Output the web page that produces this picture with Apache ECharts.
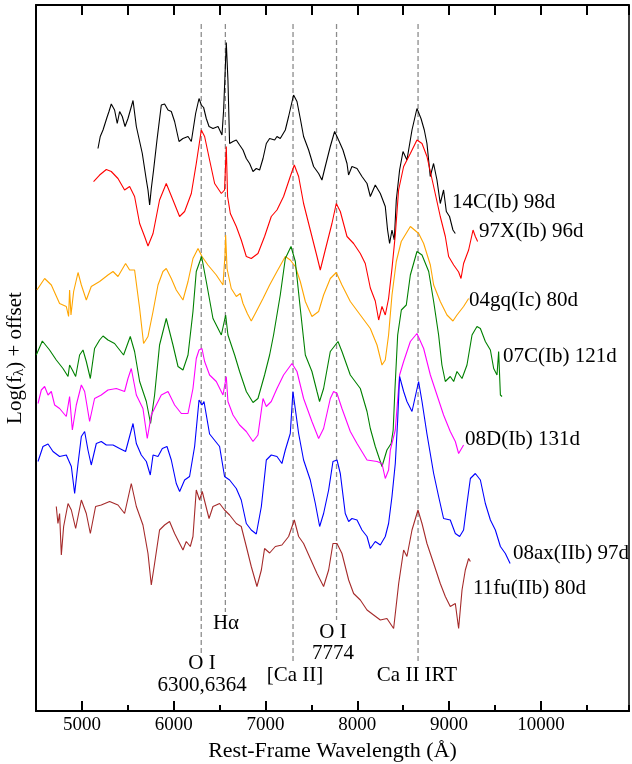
<!DOCTYPE html>
<html>
<head>
<meta charset="utf-8">
<script src="https://cdn.jsdelivr.net/npm/echarts@6/dist/echarts.min.js"></script>
<style>
html,body{margin:0;padding:0;background:#fff;}
#chart{width:632px;height:764px;}
</style>
</head>
<body>
<div id="chart"></div>
<script>
// ---------------- DATA (wavelength in Å, log flux + offset) ----------------
const sn14C = [[5175,11.25],[5200,11.49],[5230,11.62],[5273,11.87],[5295,11.99],[5320,12.14],[5356,12.02],[5385,11.75],[5411,11.99],[5440,11.89],[5470,11.69],[5502,11.85],[5557,12.21],[5593,11.69],[5658,11.15],[5702,10.62],[5720,10.42],[5738,10.12],[5756,10.45],[5781,10.82],[5818,11.42],[5865,12.12],[5901,12.14],[5938,12.02],[5974,11.99],[6010,11.79],[6058,11.39],[6101,11.45],[6156,11.49],[6192,11.39],[6239,11.95],[6276,12.25],[6301,12.12],[6326,12.07],[6355,11.85],[6385,11.69],[6428,11.65],[6483,11.69],[6526,11.52],[6544,12.02],[6573,13.37],[6591,12.62],[6609,11.35],[6646,11.39],[6682,11.42],[6718,11.32],[6755,11.22],[6791,11.05],[6827,10.95],[6864,10.79],[6900,10.85],[6936,10.82],[6973,11.05],[7009,11.35],[7045,11.45],[7100,11.42],[7125,11.49],[7161,11.45],[7216,11.62],[7252,11.89],[7306,12.32],[7343,12.19],[7379,11.85],[7415,11.49],[7470,11.22],[7524,10.89],[7579,10.75],[7615,10.62],[7651,10.89],[7706,11.29],[7753,11.59],[7796,11.42],[7844,11.22],[7888,10.95],[7905,10.72],[7942,10.89],[7997,10.85],[8051,10.69],[8106,10.55],[8142,10.29],[8196,10.52],[8251,10.35],[8305,10.09],[8330,9.62],[8352,9.35],[8378,9.62],[8403,9.42],[8425,10.22],[8461,10.82],[8498,11.19],[8541,11.02],[8596,11.62],[8650,12.05],[8694,11.85],[8730,11.62],[8759,11.35],[8795,10.69],[8831,10.95],[8868,10.62],[8904,10.15],[8940,10.42],[8970,9.99],[9005,9.89],[9042,9.62],[9068,9.55]];

const sn97X = [[5127,10.59],[5193,10.72],[5266,10.83],[5320,10.79],[5393,10.65],[5465,10.42],[5520,10.49],[5574,10.29],[5629,9.75],[5683,9.49],[5720,9.30],[5775,9.55],[5846,10.22],[5919,10.55],[5992,10.22],[6064,9.89],[6119,9.99],[6192,10.35],[6246,10.95],[6301,11.62],[6337,11.49],[6391,11.02],[6446,10.55],[6519,10.35],[6554,10.42],[6573,11.29],[6587,10.29],[6617,9.95],[6682,9.69],[6736,9.42],[6791,9.09],[6845,9.05],[6918,9.15],[6990,9.49],[7063,9.89],[7125,10.02],[7197,10.29],[7270,10.69],[7314,10.92],[7361,10.69],[7415,10.15],[7488,9.62],[7561,9.09],[7597,8.82],[7651,9.22],[7724,9.75],[7771,10.15],[7815,9.99],[7888,9.49],[7960,9.35],[8033,9.15],[8087,8.95],[8142,8.46],[8196,8.20],[8233,7.82],[8269,8.09],[8305,7.92],[8341,8.25],[8378,8.85],[8414,9.52],[8450,10.42],[8505,10.89],[8578,11.15],[8650,11.42],[8705,11.35],[8759,11.09],[8832,10.49],[8904,9.89],[8959,9.49],[8995,9.09],[9050,8.92],[9104,8.78],[9130,8.65],[9158,8.95],[9213,9.22],[9261,9.62],[9286,9.49],[9311,9.39]];

const sn04gq = [[4510,8.42],[4522,8.45],[4594,8.65],[4667,8.52],[4757,8.15],[4830,8.09],[4855,7.89],[4866,8.42],[4881,7.92],[4910,8.39],[4958,8.77],[4994,8.52],[5012,8.55],[5048,8.22],[5102,8.49],[5193,8.59],[5284,8.72],[5339,8.79],[5393,8.69],[5476,8.95],[5520,8.82],[5574,8.82],[5629,8.05],[5672,7.35],[5720,7.49],[5775,7.99],[5829,8.52],[5883,8.79],[5919,8.85],[5974,8.65],[6028,8.42],[6101,8.22],[6156,8.59],[6210,9.05],[6265,9.25],[6308,9.09],[6373,8.92],[6464,8.72],[6537,8.52],[6559,9.12],[6566,9.52],[6581,8.85],[6627,8.45],[6682,8.29],[6725,8.35],[6755,8.15],[6802,7.95],[6845,7.80],[6900,7.99],[6973,8.25],[7045,8.52],[7125,8.79],[7216,9.09],[7270,9.02],[7325,8.89],[7379,8.59],[7434,8.19],[7506,7.89],[7579,7.99],[7633,8.32],[7706,8.65],[7771,8.77],[7833,8.52],[7924,8.19],[8033,7.92],[8142,7.65],[8215,7.32],[8269,6.92],[8305,7.02],[8341,7.52],[8378,8.32],[8425,8.99],[8479,9.39],[8578,9.69],[8669,9.55],[8723,9.35],[8796,8.92],[8832,8.52],[8904,8.19],[8977,7.92],[9042,7.80],[9086,7.92],[9158,8.09],[9213,8.25]];

const sn07C = [[4503,7.12],[4569,7.40],[4648,7.22],[4721,7.02],[4794,6.85],[4849,6.69],[4866,6.92],[4896,6.82],[4932,6.69],[4975,7.12],[5012,7.22],[5048,6.99],[5092,6.65],[5138,7.25],[5193,7.42],[5230,7.50],[5284,7.42],[5356,7.35],[5454,7.12],[5527,7.49],[5574,7.19],[5629,6.59],[5702,6.19],[5748,5.75],[5792,6.32],[5846,7.32],[5919,7.85],[5992,7.32],[6047,6.89],[6101,6.82],[6156,7.12],[6210,7.99],[6246,8.79],[6304,9.09],[6355,8.59],[6428,7.85],[6519,7.52],[6566,7.92],[6591,7.52],[6664,7.12],[6718,6.79],[6791,6.39],[6864,6.17],[6918,6.25],[6990,6.72],[7045,7.12],[7088,7.52],[7161,8.32],[7216,9.05],[7278,9.29],[7325,8.99],[7379,8.05],[7434,7.12],[7506,6.79],[7561,6.39],[7589,6.19],[7633,6.45],[7706,7.19],[7790,7.39],[7833,7.19],[7924,6.72],[8033,6.45],[8106,5.99],[8142,5.65],[8196,5.29],[8269,4.89],[8323,5.22],[8369,5.35],[8391,5.62],[8410,6.42],[8440,7.52],[8480,8.02],[8534,8.12],[8578,8.72],[8650,9.19],[8705,9.12],[8778,8.79],[8832,8.19],[8886,7.52],[8922,6.92],[8959,6.59],[9013,6.69],[9050,6.59],[9086,6.79],[9141,6.65],[9195,6.92],[9250,7.52],[9304,7.69],[9341,7.65],[9395,7.39],[9450,7.22],[9486,6.85],[9522,6.72],[9540,7.19],[9559,6.32],[9577,6.29]];

const sn08D = [[4522,6.15],[4558,6.42],[4594,6.49],[4631,6.32],[4667,6.39],[4703,6.12],[4757,6.05],[4830,5.89],[4866,6.29],[4896,5.62],[4939,6.12],[4994,6.52],[5030,6.39],[5084,5.79],[5138,6.25],[5211,6.32],[5284,6.42],[5375,6.45],[5465,6.39],[5502,6.65],[5538,6.85],[5593,6.32],[5665,6.05],[5712,5.45],[5756,5.92],[5810,6.12],[5865,6.32],[5938,6.39],[6010,6.12],[6083,5.95],[6156,5.95],[6210,6.45],[6246,7.05],[6276,7.22],[6308,7.25],[6337,6.99],[6391,6.72],[6464,6.59],[6537,6.32],[6573,6.69],[6591,6.19],[6646,5.92],[6718,5.72],[6791,5.59],[6864,5.39],[6918,5.52],[6973,6.25],[7009,6.09],[7063,6.19],[7125,6.45],[7197,6.72],[7288,6.95],[7343,6.79],[7415,6.25],[7506,5.79],[7579,5.45],[7633,5.65],[7706,6.25],[7742,6.39],[7779,6.35],[7833,6.05],[7924,5.59],[7997,5.35],[8106,5.02],[8215,4.99],[8269,4.95],[8305,4.65],[8341,4.82],[8360,5.22],[8414,5.62],[8461,6.72],[8505,6.99],[8578,7.39],[8650,7.55],[8723,7.25],[8796,6.72],[8868,6.32],[8940,5.92],[9013,5.59],[9068,5.39],[9104,5.15],[9158,5.32]];

const sn08ax = [[4522,4.99],[4576,5.29],[4631,5.34],[4685,5.19],[4757,5.09],[4830,5.12],[4885,4.89],[4921,4.35],[4958,4.95],[4994,5.49],[5030,5.59],[5066,5.22],[5102,4.92],[5157,5.35],[5211,5.39],[5266,5.32],[5339,5.32],[5411,5.25],[5476,5.19],[5557,5.75],[5593,5.35],[5647,5.12],[5702,4.99],[5745,4.72],[5775,5.12],[5829,5.09],[5876,5.25],[5927,5.29],[5974,5.02],[6028,4.55],[6065,4.39],[6119,4.62],[6173,4.69],[6228,5.29],[6276,6.22],[6308,6.12],[6330,6.19],[6391,5.54],[6500,5.29],[6554,4.69],[6609,4.62],[6682,4.45],[6736,4.22],[6791,3.75],[6845,3.62],[6900,3.54],[6955,4.09],[7009,5.02],[7063,5.12],[7125,5.09],[7179,4.95],[7216,5.22],[7270,5.55],[7299,6.39],[7361,5.55],[7415,5.02],[7488,4.62],[7543,4.15],[7590,3.69],[7633,3.95],[7688,4.42],[7735,4.99],[7779,5.02],[7815,4.75],[7869,3.95],[7906,3.79],[7942,3.85],[7997,3.82],[8051,3.62],[8106,3.49],[8142,3.25],[8196,3.39],[8251,3.32],[8305,3.49],[8341,3.75],[8378,4.29],[8414,4.95],[8440,5.82],[8461,6.69],[8505,6.39],[8541,6.19],[8596,5.99],[8668,6.59],[8705,6.19],[8759,5.54],[8832,4.75],[8886,4.29],[8940,3.85],[9013,3.82],[9068,3.55],[9115,3.49],[9158,3.62],[9195,4.15],[9232,4.65],[9286,4.75],[9341,4.62],[9395,4.15],[9450,3.82],[9504,3.62],[9559,3.29],[9613,3.15],[9665,2.95]];

const sn11fu = [[4721,4.09],[4739,3.75],[4757,3.95],[4776,3.12],[4801,3.69],[4849,4.15],[4885,4.02],[4932,3.65],[4994,4.22],[5048,3.95],[5092,3.55],[5149,4.09],[5211,4.12],[5302,4.19],[5393,4.12],[5465,3.95],[5538,4.55],[5593,4.09],[5665,3.72],[5720,3.15],[5756,2.52],[5792,2.95],[5846,3.62],[5901,3.72],[5955,3.79],[6010,3.55],[6065,3.35],[6101,3.22],[6137,3.39],[6181,3.29],[6210,3.49],[6246,4.42],[6282,4.22],[6311,4.39],[6385,3.85],[6428,4.09],[6500,4.15],[6554,4.02],[6609,3.92],[6682,3.75],[6736,3.69],[6791,3.29],[6845,2.89],[6907,2.49],[6955,2.82],[6990,3.25],[7045,3.16],[7107,3.29],[7179,3.32],[7252,3.49],[7314,3.82],[7361,3.49],[7415,3.35],[7488,3.05],[7561,2.75],[7633,2.49],[7688,2.82],[7735,3.35],[7779,3.35],[7833,3.15],[7906,2.62],[7960,2.35],[8033,2.22],[8106,2.02],[8178,1.92],[8251,1.82],[8323,1.85],[8396,1.65],[8451,2.55],[8505,3.22],[8541,3.09],[8596,3.62],[8661,4.02],[8705,3.75],[8759,3.35],[8832,2.95],[8904,2.55],[8959,2.29],[9013,2.09],[9068,2.15],[9104,1.65],[9141,2.42],[9177,2.82],[9213,3.05],[9232,2.99]];

const seriesNames = ['14C(Ib) 98d','97X(Ib) 96d','04gq(Ic) 80d','07C(Ib) 121d','08D(Ib) 131d','08ax(IIb) 97d','11fu(IIb) 80d'];

// Line identifications (wavelength, top and bottom of dashed marker in y units)
const lineWaves   = [6300, 6563, 7300, 7774, 8662];
const lineTops    = [13.74, 13.74, 13.74, 13.74, 13.74];
const lineBottoms = [1.12, 1.98, 0.98, 1.82, 0.98];
const lineLabels  = [['O I','6300,6364'], ['Hα'], ['[Ca II]'], ['O I','7774'], ['Ca II IRT']];

const majorTicks = [5000,6000,7000,8000,9000,10000];

// ---------------- LAYOUT / STYLE ----------------
const FONT = '"Liberation Serif", "Times New Roman", serif';
const spectra = [sn14C, sn97X, sn04gq, sn07C, sn08D, sn08ax, sn11fu];
const colors = ['#000000','#ff0000','#ffa500','#008000','#ff00ff','#0000ff','#a52a2a'];
// label anchor positions (pixels, left / middle)
const labelPos = [[452,202],[479,231],[469,300],[503,356],[465,439],[513,553],[473,588]];
const lineLabelPos = [[202,[663,685]],[226,[623]],[295,[675]],[333,[632,653]],[417,[675]]];

const chart = echarts.init(document.getElementById('chart'), null, {renderer:'canvas'});

const series = [];
lineWaves.forEach((w,i)=>{
  series.push({
    type:'line', silent:true, symbol:'none', z:1, xAxisIndex:0, yAxisIndex:0,
    data:[[w,lineTops[i]],[w,lineBottoms[i]]],
    lineStyle:{color:'#8c8c8c', width:1.3, type:[5,3]}
  });
});
spectra.forEach((d,i)=>{
  series.push({
    name:seriesNames[i], type:'line', silent:true, symbol:'none', z:3, xAxisIndex:0, yAxisIndex:0,
    data:d, lineStyle:{color:colors[i], width:1.1}
  });
});

const graphics = [];
seriesNames.forEach((n,i)=>{
  graphics.push({type:'text', x:labelPos[i][0], y:labelPos[i][1], silent:true,
    style:{text:n, font:'21px '+FONT, fill:'#000', align:'left', verticalAlign:'middle'}});
});
lineLabels.forEach((lines,i)=>{
  lines.forEach((t,j)=>{
    graphics.push({type:'text', x:lineLabelPos[i][0], y:lineLabelPos[i][1][j], silent:true,
      style:{text:t, font:'21px '+FONT, fill:'#000', align:'center', verticalAlign:'middle'}});
  });
});

const gridBox = {left:36, right:3, top:5, bottom:53, containLabel:false, outerBoundsMode:'none'};
const mkLine = (w)=>({show:true, onZero:false, lineStyle:{color:'#000', width:w}});
const hiddenY = (g)=>({type:'value', gridIndex:g, min:0, max:14.12, show:false});

chart.setOption({
  animation:false,
  backgroundColor:'#fff',
  grid:[Object.assign({}, gridBox), Object.assign({}, gridBox), Object.assign({}, gridBox)],
  xAxis:[
    {type:'value', gridIndex:0, min:4500, max:10960, position:'bottom', splitLine:{show:false},
     axisLine:mkLine(2),
     axisTick:{show:true, inside:true, length:10, customValues:majorTicks, lineStyle:{color:'#000', width:2}},
     axisLabel:{show:true, customValues:majorTicks, formatter:(v)=>String(v), margin:5, fontSize:19, fontFamily:FONT, color:'#000'},
     name:'Rest-Frame Wavelength (Å)', nameLocation:'middle', nameGap:29,
     nameTextStyle:{fontSize:22, fontFamily:FONT, color:'#000'}},
    {type:'value', gridIndex:1, min:4500, max:10960, interval:500, position:'bottom', splitLine:{show:false},
     axisLine:mkLine(2),
     axisTick:{show:true, inside:true, length:6, lineStyle:{color:'#000', width:2}},
     axisLabel:{show:false}},
    {type:'value', gridIndex:2, min:4500, max:10960, interval:500, position:'top', splitLine:{show:false},
     axisLine:mkLine(2),
     axisTick:{show:true, inside:true, length:10, lineStyle:{color:'#000', width:2}},
     axisLabel:{show:false}}
  ],
  yAxis:[{
    type:'value', gridIndex:0, min:0, max:14.12, position:'left',
    axisLine:mkLine(2), axisTick:{show:false}, axisLabel:{show:false}, splitLine:{show:false},
    name:'Log(f{sub|λ}) + offset', nameLocation:'middle', nameGap:9,
    nameTextStyle:{fontSize:21, fontFamily:FONT, color:'#000',
      rich:{sub:{fontSize:15, fontFamily:FONT, color:'#000', padding:[8,0,0,0]}}}
  },{
    type:'value', gridIndex:1, min:0, max:14.12, position:'right',
    axisLine:mkLine(1.5), axisTick:{show:false}, axisLabel:{show:false}, splitLine:{show:false}
  }, hiddenY(2)],
  series: series,
  graphic: graphics
});
</script>
</body>
</html>
